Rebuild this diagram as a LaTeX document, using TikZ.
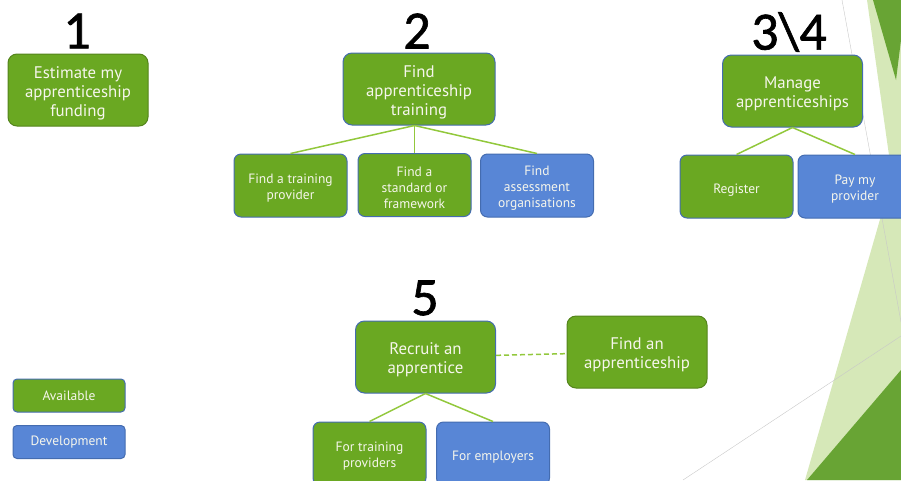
\documentclass[tikz,border=0pt]{standalone}
\usepackage{fontspec}
\setmainfont{PT Sans}
\newfontfamily\stagefont[FakeBold=1.2]{Carlito}

\definecolor{boxgreen}{RGB}{106,168,34}
\definecolor{boxblue}{RGB}{88,134,214}
\definecolor{edgeblue}{RGB}{68,108,176}
\definecolor{edgegreen}{RGB}{84,132,28}
\definecolor{linkgreen}{RGB}{146,200,60}
\definecolor{facetlight}{RGB}{214,232,184}
\definecolor{facetdark}{RGB}{104,164,52}
\definecolor{facetline}{RGB}{200,200,200}
\definecolor{textwhite}{RGB}{246,246,236}

\newcommand\stagestyle{\stagefont\fontsize{54}{54}\selectfont}
\newcommand\bigtaskstyle{\fontsize{16.8}{19}\selectfont}
\newcommand\subtaskstyle{\fontsize{13.5}{16}\selectfont}

\tikzset{
  stage/.style={inner sep=0pt, font=\stagestyle},
  task/.style={draw=edgeblue, fill=boxgreen, text=textwhite, line width=1pt,
    rounded corners=9pt, align=center, inner sep=0pt},
  % push the lines down a little inside the box
  textdrop/.style={execute at begin node={\vbox\bgroup\kern#1\hbox\bgroup},
    execute at end node={\egroup\egroup}},
  bigtask/.style={task, minimum width=140pt, minimum height=72pt, font=\bigtaskstyle, textdrop=6pt},
  subtask/.style={task, rounded corners=7pt, minimum width=113pt, minimum height=63pt, font=\subtaskstyle, textdrop=5pt},
  oneline/.style={textdrop=2pt},
  legendbox/.style={task, rounded corners=4pt, minimum width=112pt, minimum height=33pt, font=\subtaskstyle},
  devtask/.style={fill=boxblue},
  link/.style={linkgreen, line width=1.5pt},
}

\begin{document}
\begin{tikzpicture}[x=1pt, y=-1pt]
  \clip (0,0) rectangle (901,480);
  % facet decoration on the right
  \fill[facetlight] (867,0) -- (901,0) -- (901,240) -- cycle;
  \fill[facetlight] (805,480) -- (887,195) -- (901,180) -- (901,480) -- cycle;
  \fill[facetdark] (873,0) -- (901,0) -- (901,40) -- (896,80) -- cycle;
  \fill[facetdark] (807,480) -- (901,370) -- (901,480) -- cycle;
  \draw[facetline] (842,0) -- (901,322);
  \draw[facetline] (683,480) -- (901,336);

  % stage numbers
  \node[stage] (stage1) at (77,31) {1};
  \node[stage] (stage2) at (417,31) {2};
  \node[stage] (stage3) at (789,32) {3\textbackslash 4};
  \node[stage] (stage5) at (425,298) {5};

  % 1
  \node[bigtask, draw=edgegreen] (estimate) at (78,90) {Estimate my\\apprenticeship\\funding};

  % 2
  \node[bigtask, minimum width=152pt] (find) at (419,89) {Find\\apprenticeship\\training};
  \node[subtask] (provider) at (290.5,185.5) {Find a training\\provider};
  \node[subtask] (standard) at (414.5,185) {Find a\\standard or\\framework};
  \node[subtask, devtask] (assess) at (537,185.5) {Find\\assessment\\organisations};
  \draw[link] (find.south -| standard.north) -- (provider.north);
  \draw[link] (find.south -| standard.north) -- (standard.north);
  \draw[link] (find.south -| standard.north) -- (assess.north);

  % 3\4
  \node[bigtask] (manage) at (792.5,91) {Manage\\apprenticeships};
  \node[subtask, oneline] (register) at (736.5,186.5) {Register};
  \node[subtask, devtask, minimum width=114pt] (pay) at (855,186.5) {Pay my\\provider};
  \draw[link] (manage.south) -- (register.north);
  \draw[link] (manage.south) -- (pay.north);

  % 5
  \node[bigtask] (recruit) at (425.5,357) {Recruit an\\apprentice};
  \node[bigtask, draw=edgegreen] (findjob) at (637,352) {Find an\\apprenticeship};
  \draw[link, dashed, dash pattern=on 5pt off 3pt] (recruit) -- (findjob);
  \node[subtask] (fortrain) at (369.5,453.5) {For training\\providers};
  \node[subtask, devtask, oneline] (foremp) at (493,453.5) {For employers};
  \draw[link] (recruit.south) -- (fortrain.north);
  \draw[link] (recruit.south) -- (foremp.north);

  % legend
  \node[legendbox] (available) at (69,395.5) {Available};
  \node[legendbox, devtask] (development) at (69,442) {Development};
\end{tikzpicture}
\end{document}
